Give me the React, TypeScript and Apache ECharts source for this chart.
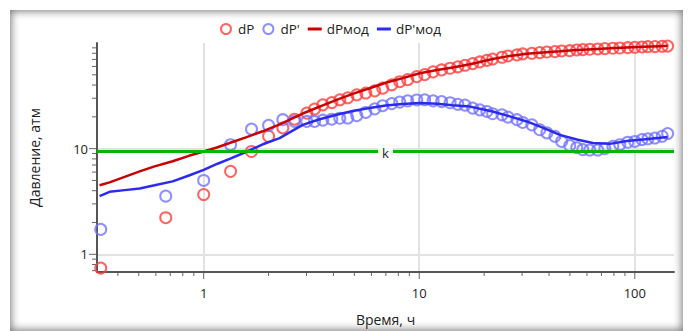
import React, { useEffect, useRef } from "react";
import * as echarts from "echarts";

// ---- data ----
const times = [0.333, 0.667, 1, 1.333, 1.667, 2, 2.33, 2.64, 3.01, 3.27, 3.57, 3.93, 4.28, 4.66, 5.13, 5.65, 6.22, 6.77, 7.46, 8.12, 8.84, 9.74, 10.6, 11.6, 12.7, 13.9, 15.1, 16.3, 17.7, 19.1, 20.6, 21.9, 24.2, 25.8, 28.4, 30.2, 33.3, 36.2, 39.1, 42.6, 45.8, 49.9, 53.8, 57.4, 61.8, 67.3, 72.6, 79.1, 85.2, 92.8, 100, 108, 115, 124, 134, 142];
const dP = [0.74, 2.22, 3.68, 6.1, 9.4, 13.1, 15.7, 19.0, 21.7, 23.7, 26, 27.3, 29, 30.3, 32.3, 33.6, 35.2, 37.4, 40.2, 43.0, 45.0, 48.1, 50.2, 53.3, 55.6, 57.7, 59.5, 61.5, 63.8, 66.2, 68.5, 70.5, 73.3, 75.4, 77.1, 78.8, 79.9, 81, 82.2, 82.8, 84.1, 84.6, 85.9, 86.5, 87.3, 87.8, 88.4, 89.2, 89.7, 90.3, 91.1, 91.7, 92.3, 92.5, 93.1, 93.5];
const dPd = [1.72, 3.55, 5.0, 10.9, 15.3, 16.6, 18.8, 18.1, 18.1, 18.1, 18.6, 19.0, 19.4, 19.5, 20.5, 22.0, 23.8, 25.5, 26.7, 27.6, 28.3, 28.9, 29.0, 28.3, 27.9, 27.2, 26.3, 25.8, 24.2, 23.3, 22.5, 21.4, 20.9, 19.9, 18.8, 17.7, 16.8, 15.1, 14.1, 13.1, 11.7, 10.7, 10.2, 9.8, 9.7, 9.7, 10.0, 10.5, 10.9, 11.5, 11.7, 12.2, 12.4, 12.6, 13.1, 13.9];

const modelTimes = [0.329, 0.366, 0.43, 0.505, 0.592, 0.718, 0.861, 1, 1.16, 1.32, 1.57, 1.88, 2.25, 2.88, 3.45, 4.14, 4.91, 5.89, 6.99, 8.38, 10.05, 12.1, 14.3, 17.2, 21.9, 26.3, 31.5, 37.4, 44.9, 53.8, 63.9, 76.6, 91.8, 109, 131, 142];
const dPmod = [4.5, 4.8, 5.4, 6.1, 6.8, 7.6, 8.6, 9.4, 10.3, 11.3, 12.8, 14.6, 17.0, 21.5, 25, 29, 33, 37.3, 42, 46.5, 51.8, 55.6, 58.5, 63, 70.5, 75.5, 79, 81.5, 83.5, 85.8, 87.5, 89, 90.8, 92, 93.4, 94];
const dPdmod = [3.55, 3.9, 4.05, 4.2, 4.5, 4.9, 5.6, 6.3, 7.2, 8.0, 9.3, 11.0, 12.6, 16.8, 19.0, 20.9, 22.7, 24.2, 25.6, 26.4, 27, 26.6, 25.8, 25, 22.5, 20.2, 18.1, 15.8, 13.5, 12.2, 11.3, 11.1, 11.8, 12.2, 12.7, 12.9];

const kValue = 9.37;

const X_MIN = 0.32;
const X_MAX = 152;
const Y_MIN = 0.68;
const Y_MAX = 100;

const xTickLabels = ["1", "10", "100"];
const yTickLabels = ["1", "10"];
const xMajorTicks = [1, 10, 100];
const xMinorTicks = [0.4, 0.5, 0.6, 0.7, 0.8, 0.9, 2, 3, 4, 5, 6, 7, 8, 9, 20, 30, 40, 50, 60, 70, 80, 90];
const yMajorTicks = [1, 10];
const yMinorTicks = [0.7, 0.8, 0.9, 2, 3, 4, 5, 6, 7, 8, 9, 20, 30, 40, 50, 60, 70, 80, 90];

const FONT = "'Open Sans', 'Noto Sans', sans-serif";
const RED_PT = "#ff3d3d";
const BLUE_PT = "#7373ff";
const RED_LN = "#c80000";
const BLUE_LN = "#2b2bf0";
const GREEN = "#00b800";
const LINE_ICON = "path://M0,0 L14,0 L14,3 L0,3 Z";

const zip = (a: number[], b: number[]) => a.map((v, i) => [v, b[i]]);

const labelFmt = (allowed: string[]) => (v: number) => {
  const s = String(Math.round(v * 1000) / 1000);
  return allowed.includes(s) ? s : "";
};

const tickSeries = (name: string, values: number[], axis: "x" | "y", len: number) => ({
  type: "custom",
  name,
  silent: true,
  clip: false,
  z: 1,
  data: values.map((v) => (axis === "x" ? [v, Y_MIN] : [X_MIN, v])),
  renderItem: (_p: any, api: any) => {
    const p = api.coord([api.value(0), api.value(1)]);
    const shape =
      axis === "x"
        ? { x1: p[0], y1: p[1] + 1, x2: p[0], y2: p[1] + len }
        : { x1: p[0] - 1, y1: p[1], x2: p[0] - len, y2: p[1] };
    return { type: "line", shape, style: { stroke: "#666", lineWidth: 1 } };
  },
});

export default function App() {
  const ref = useRef<HTMLDivElement>(null);
  useEffect(() => {
    const chart = echarts.init(ref.current!, null, { renderer: "svg" });
    const option: any = {
      animation: false,
      textStyle: { fontFamily: FONT },
      legend: {
        left: 215,
        top: 17,
        itemWidth: 14,
        itemHeight: 10,
        itemGap: 8,
        textStyle: { fontFamily: FONT, fontSize: 13.5, color: "#222" },
        data: [
          { name: "dP", icon: "circle", itemStyle: { color: "rgba(0,0,0,0)", borderColor: RED_PT, borderWidth: 2 } },
          { name: "dP'", icon: "circle", itemStyle: { color: "rgba(0,0,0,0)", borderColor: BLUE_PT, borderWidth: 2 } },
          { name: "dPмод", icon: LINE_ICON, itemStyle: { color: RED_LN, borderWidth: 0 } },
          { name: "dP'мод", icon: LINE_ICON, itemStyle: { color: BLUE_LN, borderWidth: 0 } },
        ],
      },
      grid: { left: 97, right: 14, top: 43, bottom: 58 },
      xAxis: {
        type: "log",
        logBase: 10,
        min: X_MIN,
        max: X_MAX,
        name: "Время, ч",
        nameLocation: "middle",
        nameGap: 40,
        nameTextStyle: { fontFamily: FONT, fontSize: 14, color: "#222" },
        axisLine: { lineStyle: { color: "#555", width: 2 } },
        axisTick: { show: false },
        minorTick: { show: false },
        axisLabel: { formatter: labelFmt(xTickLabels), fontFamily: FONT, fontSize: 13, color: "#222", margin: 14 },
        splitLine: { show: true, showMinLine: false, showMaxLine: false, lineStyle: { color: "#e2e2e2", width: 2 } },
      },
      yAxis: {
        type: "log",
        logBase: 10,
        min: Y_MIN,
        max: Y_MAX,
        name: "Давление, атм",
        nameLocation: "middle",
        nameGap: 56,
        nameTextStyle: { fontFamily: FONT, fontSize: 14, color: "#222" },
        axisLine: { lineStyle: { color: "#555", width: 2 } },
        axisTick: { show: false },
        minorTick: { show: false },
        axisLabel: { formatter: labelFmt(yTickLabels), fontFamily: FONT, fontSize: 13, color: "#222", margin: 9 },
        splitLine: { show: true, showMinLine: false, showMaxLine: false, lineStyle: { color: "#e2e2e2", width: 2 } },
      },
      series: [
        tickSeries("xMinor", xMinorTicks, "x", 4),
        tickSeries("xMajor", xMajorTicks, "x", 7),
        tickSeries("yMinor", yMinorTicks, "y", 5),
        tickSeries("yMajor", yMajorTicks, "y", 8),
        {
          type: "scatter",
          name: "dP",
          data: zip(times, dP),
          symbol: "circle",
          symbolSize: 11,
          itemStyle: { color: "rgba(0,0,0,0)", borderColor: RED_PT, borderWidth: 2 },
          z: 3,
        },
        {
          type: "scatter",
          name: "dP'",
          data: zip(times, dPd),
          symbol: "circle",
          symbolSize: 11,
          itemStyle: { color: "rgba(0,0,0,0)", borderColor: BLUE_PT, borderWidth: 2 },
          z: 3,
        },
        {
          type: "line",
          name: "dPмод",
          data: zip(modelTimes, dPmod),
          symbol: "none",
          lineStyle: { color: RED_LN, width: 2.5 },
          itemStyle: { color: RED_LN },
          z: 4,
        },
        {
          type: "line",
          name: "dP'мод",
          data: zip(modelTimes, dPdmod),
          symbol: "none",
          lineStyle: { color: BLUE_LN, width: 2.5 },
          itemStyle: { color: BLUE_LN },
          z: 4,
          markLine: {
            silent: true,
            symbol: "none",
            data: [{ yAxis: kValue }],
            lineStyle: { color: GREEN, width: 3, type: "solid" },
            label: {
              show: true,
              formatter: "k",
              position: "middle",
              distance: -8,
              color: "#222",
              fontFamily: FONT,
              fontSize: 13,
              backgroundColor: "#fff",
              padding: [0, 4],
            },
          },
        },
      ],
    };
    chart.setOption(option);
    return () => chart.dispose();
  }, []);
  return (
    <div style={{ position: "fixed", left: 0, top: 0, width: 688, height: 331, background: "#fff" }}>
      <div
        style={{
          position: "absolute",
          left: 10,
          top: 10,
          width: 673,
          height: 321,
          boxShadow: "inset 0 0 9px 1px rgba(0,0,0,0.55)",
        }}
      />
      <div ref={ref} style={{ position: "absolute", left: 0, top: 0, width: 688, height: 331 }} />
    </div>
  );
}
